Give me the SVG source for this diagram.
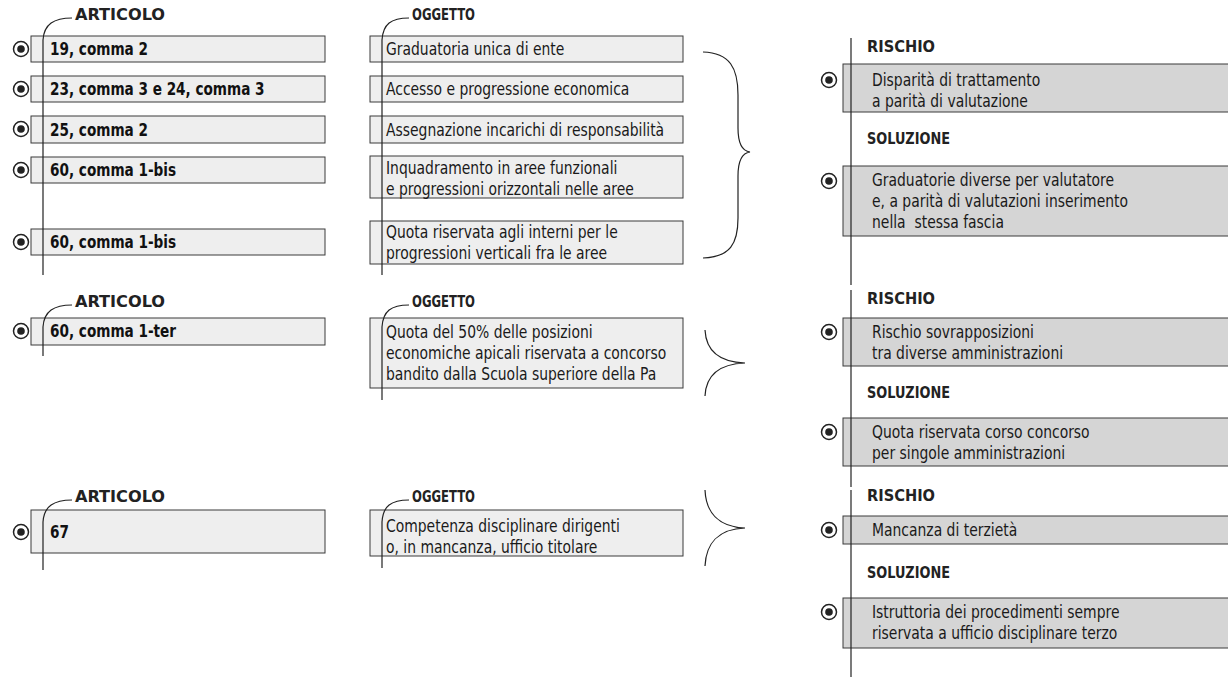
<svg xmlns="http://www.w3.org/2000/svg" width="1228" height="677" viewBox="0 0 1228 677">
<style>
.bg{fill:#ffffff}
.box{fill:#eeeeee;stroke:#3a3a3a;stroke-width:1}
.rbox{fill:#d5d5d5;stroke:#3a3a3a;stroke-width:1}
.t{font-family:"DejaVu Sans Condensed","DejaVu Sans",sans-serif;font-size:17px;fill:#1a1a1a}
.b{font-family:"DejaVu Sans Condensed","DejaVu Sans",sans-serif;font-size:17px;font-weight:bold;fill:#111}
.lab{font-family:"DejaVu Sans Condensed","DejaVu Sans",sans-serif;font-size:16px;font-weight:bold;fill:#222}
.ln{fill:none;stroke:#222;stroke-width:1.2}
.bo{fill:#fff;stroke:#222;stroke-width:1.5}
.bi{fill:#222}
</style>
<defs>
<g id="bullet"><circle class="bo" cx="0" cy="0" r="7.5"/><circle class="bi" cx="0" cy="0" r="3.8"/></g>
</defs>
<rect class="bg" x="0" y="0" width="1228" height="677"/>

<g id="labels">
<text class="lab" x="75" y="20" textLength="90" lengthAdjust="spacingAndGlyphs">ARTICOLO</text>
<text class="lab" x="412" y="20" textLength="63" lengthAdjust="spacingAndGlyphs">OGGETTO</text>
<text class="lab" x="867" y="52" textLength="68" lengthAdjust="spacingAndGlyphs">RISCHIO</text>
<text class="lab" x="867" y="144" textLength="83" lengthAdjust="spacingAndGlyphs">SOLUZIONE</text>
<text class="lab" x="75" y="307" textLength="90" lengthAdjust="spacingAndGlyphs">ARTICOLO</text>
<text class="lab" x="412" y="307" textLength="63" lengthAdjust="spacingAndGlyphs">OGGETTO</text>
<text class="lab" x="867" y="304" textLength="68" lengthAdjust="spacingAndGlyphs">RISCHIO</text>
<text class="lab" x="867" y="398" textLength="83" lengthAdjust="spacingAndGlyphs">SOLUZIONE</text>
<text class="lab" x="75" y="502" textLength="90" lengthAdjust="spacingAndGlyphs">ARTICOLO</text>
<text class="lab" x="412" y="502" textLength="63" lengthAdjust="spacingAndGlyphs">OGGETTO</text>
<text class="lab" x="867" y="501" textLength="68" lengthAdjust="spacingAndGlyphs">RISCHIO</text>
<text class="lab" x="867" y="578" textLength="83" lengthAdjust="spacingAndGlyphs">SOLUZIONE</text>
</g>

<g id="art1"><use href="#bullet" x="21" y="49"/><rect class="box" x="31" y="36" width="294" height="26"/><text class="b" transform="translate(50,55) scale(0.89,1)">19, comma 2</text></g>
<g id="art2"><use href="#bullet" x="21" y="89"/><rect class="box" x="31" y="76" width="294" height="26"/><text class="b" transform="translate(50,95) scale(0.89,1)">23, comma 3 e 24, comma 3</text></g>
<g id="art3"><use href="#bullet" x="21" y="129"/><rect class="box" x="31" y="116" width="294" height="27"/><text class="b" transform="translate(50,136) scale(0.89,1)">25, comma 2</text></g>
<g id="art4"><use href="#bullet" x="21" y="170"/><rect class="box" x="31" y="157" width="294" height="26"/><text class="b" transform="translate(50,176) scale(0.89,1)">60, comma 1-bis</text></g>
<g id="art5"><use href="#bullet" x="21" y="242"/><rect class="box" x="31" y="229" width="294" height="26"/><text class="b" transform="translate(50,248) scale(0.89,1)">60, comma 1-bis</text></g>
<g id="art6"><use href="#bullet" x="21" y="331"/><rect class="box" x="31" y="318" width="294" height="27"/><text class="b" transform="translate(50,337) scale(0.89,1)">60, comma 1-ter</text></g>
<g id="art7"><use href="#bullet" x="21" y="532"/><rect class="box" x="31" y="510" width="294" height="43"/><text class="b" transform="translate(50,538) scale(0.89,1)">67</text></g>

<g id="obj1"><rect class="box" x="370" y="36" width="313" height="26"/><text class="t" transform="translate(386,55) scale(0.91,1)">Graduatoria unica di ente</text></g>
<g id="obj2"><rect class="box" x="370" y="76" width="313" height="26"/><text class="t" transform="translate(386,95) scale(0.91,1)">Accesso e progressione economica</text></g>
<g id="obj3"><rect class="box" x="370" y="116" width="313" height="27"/><text class="t" transform="translate(386,136) scale(0.91,1)">Assegnazione incarichi di responsabilità</text></g>
<g id="obj4"><rect class="box" x="370" y="156" width="313" height="42"/><text class="t" transform="translate(386,174) scale(0.91,1)"><tspan x="0" y="0">Inquadramento in aree funzionali</tspan><tspan x="0" y="21">e progressioni orizzontali nelle aree</tspan></text></g>
<g id="obj5"><rect class="box" x="370" y="221" width="313" height="43"/><text class="t" transform="translate(386,238) scale(0.91,1)"><tspan x="0" y="0">Quota riservata agli interni per le</tspan><tspan x="0" y="21">progressioni verticali fra le aree</tspan></text></g>
<g id="obj6"><rect class="box" x="370" y="318" width="313" height="70"/><text class="t" transform="translate(386,338) scale(0.91,1)"><tspan x="0" y="0">Quota del 50% delle posizioni</tspan><tspan x="0" y="21">economiche apicali riservata a concorso</tspan><tspan x="0" y="42">bandito dalla Scuola superiore della Pa</tspan></text></g>
<g id="obj7"><rect class="box" x="370" y="510" width="313" height="46"/><text class="t" transform="translate(386,532) scale(0.91,1)"><tspan x="0" y="0">Competenza disciplinare dirigenti</tspan><tspan x="0" y="21">o, in mancanza, ufficio titolare</tspan></text></g>

<g id="risk1"><use href="#bullet" x="829" y="80"/><rect class="rbox" x="843" y="64" width="390" height="48"/><text class="t" transform="translate(872,86) scale(0.91,1)"><tspan x="0" y="0">Disparità di trattamento</tspan><tspan x="0" y="21">a parità di valutazione</tspan></text></g>
<g id="sol1"><use href="#bullet" x="829" y="181"/><rect class="rbox" x="843" y="166" width="390" height="70"/><text class="t" transform="translate(872,186) scale(0.91,1)"><tspan x="0" y="0">Graduatorie diverse per valutatore</tspan><tspan x="0" y="21">e, a parità di valutazioni inserimento</tspan><tspan x="0" y="42" xml:space="preserve">nella  stessa fascia</tspan></text></g>
<g id="risk2"><use href="#bullet" x="829" y="332"/><rect class="rbox" x="843" y="318" width="390" height="48"/><text class="t" transform="translate(872,338) scale(0.91,1)"><tspan x="0" y="0">Rischio sovrapposizioni</tspan><tspan x="0" y="21">tra diverse amministrazioni</tspan></text></g>
<g id="sol2"><use href="#bullet" x="829" y="432"/><rect class="rbox" x="843" y="418" width="390" height="48"/><text class="t" transform="translate(872,438) scale(0.91,1)"><tspan x="0" y="0">Quota riservata corso concorso</tspan><tspan x="0" y="21">per singole amministrazioni</tspan></text></g>
<g id="risk3"><use href="#bullet" x="829" y="530"/><rect class="rbox" x="843" y="516" width="390" height="28"/><text class="t" transform="translate(872,536) scale(0.91,1)">Mancanza di terzietà</text></g>
<g id="sol3"><use href="#bullet" x="829" y="612"/><rect class="rbox" x="843" y="598" width="390" height="50"/><text class="t" transform="translate(872,618) scale(0.91,1)"><tspan x="0" y="0">Istruttoria dei procedimenti sempre</tspan><tspan x="0" y="21">riservata a ufficio disciplinare terzo</tspan></text></g>

<g id="connectors">
<path class="ln" d="M72,18 C54,18 44,24 43,40 L43,275"/>
<path class="ln" d="M409,18 C391,18 383,24 382,40 L382,275"/>
<path class="ln" d="M72,305 C54,305 44,311 43,327 L43,356"/>
<path class="ln" d="M409,305 C391,305 383,311 382,327 L382,400"/>
<path class="ln" d="M72,500 C54,500 44,506 43,522 L43,570"/>
<path class="ln" d="M409,500 C391,500 383,506 382,522 L382,568"/>
<path class="ln" d="M851,38 V285"/>
<path class="ln" d="M851,290 V487"/>
<path class="ln" d="M851,490 V677"/>
<path class="ln" d="M703,52 C730,53 738,68 738,95 L738,128 C738,143 742,151 750,152 C742,153 738,161 738,176 L738,218 C738,244 730,257 703,258"/>
<path class="ln" d="M705,330 C706,350 718,362 745,363 C718,364 706,376 705,396"/>
<path class="ln" d="M705,490 C706,512 718,527 745,528 C718,529 706,544 705,566"/>
</g>
</svg>
